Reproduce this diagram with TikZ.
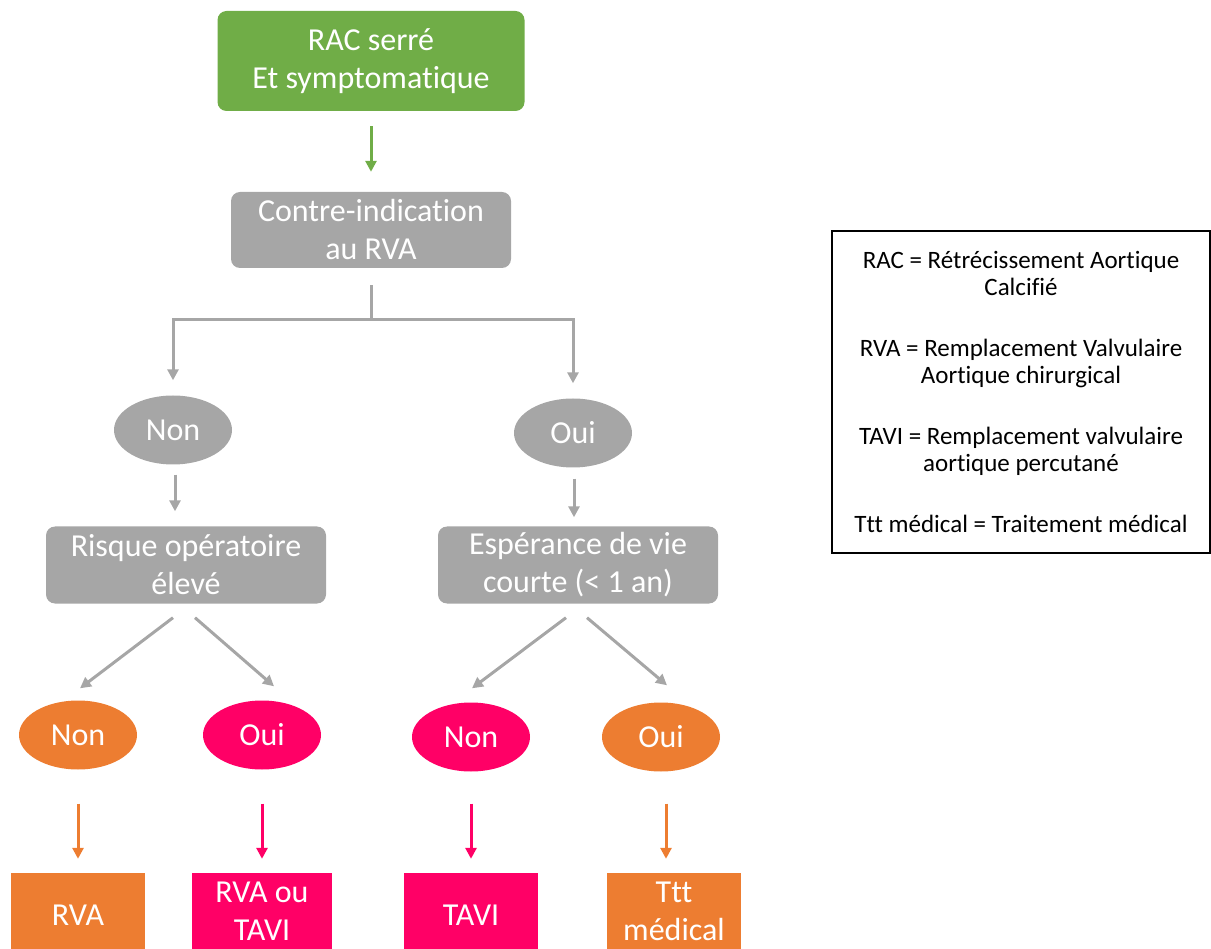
\documentclass[tikz,border=0pt]{standalone}
\usepackage{fontspec}
\setmainfont{Carlito}[Ligatures=NoCommon]
\usetikzlibrary{shapes.geometric,arrows.meta}
\definecolor{vert}{HTML}{70AD47}
\definecolor{gris}{HTML}{A6A6A6}
\definecolor{orangeb}{HTML}{ED7D31}
\definecolor{rose}{HTML}{FF0066}
\tikzset{
  boite/.style={rounded corners=9pt, fill=gris, text=white, align=center, inner sep=0pt,
    minimum width=280pt, minimum height=77pt, font=\fontsize{32}{38}\selectfont},
  bulle/.style={ellipse, text=white, inner sep=0pt, minimum width=118pt, minimum height=69pt,
    font=\fontsize{32}{38}\selectfont},
  fin/.style={text=white, align=center, inner sep=0pt, minimum width=134pt, minimum height=84pt,
    font=\fontsize{32}{38}\selectfont},
  fleche/.style={line width=3pt, -{Triangle[length=11pt,width=11pt]}},
  trait/.style={line width=3pt, draw=gris},
}
\begin{document}
\begin{tikzpicture}[x=1pt,y=-1pt]
\useasboundingbox (0,0) rectangle (1211,949);
\clip (0,0) rectangle (1211,949);

\node[boite,fill=vert,minimum width=307pt,minimum height=100pt] (rac) at (371,61) {RAC serré\\Et symptomatique};
\node[boite,minimum width=280pt,minimum height=76pt] (ci) at (371,230) {Contre-indication\\au RVA};
\node[bulle,fill=gris] (non1) at (173,430) {Non};
\node[bulle,fill=gris] (oui1) at (573,433) {Oui};
\node[boite] (risque) at (186,565) {Risque opératoire\\élevé};
\node[boite] (esper) at (578,565) {Espérance de vie\\courte (< 1 an)};

\node[bulle,fill=orangeb] (non2) at (78,735) {Non};
\node[bulle,fill=rose] (oui2) at (262,735) {Oui};
\node[bulle,fill=rose] (non3) at (471,737) {Non};
\node[bulle,fill=orangeb] (oui3) at (661,737) {Oui};

\node[fin,fill=orangeb] (rva) at (78,915) {RVA};
\node[fin,fill=rose,minimum width=140pt,minimum height=76pt] (rvatavi) at (262,911) {RVA ou\\TAVI};
\node[fin,fill=rose] (tavi) at (471,915) {TAVI};
\node[fin,fill=orangeb,minimum height=76pt] (ttt) at (674,911) {Ttt\\médical};

\node[draw=black, line width=2pt, align=center, minimum width=378pt, minimum height=321pt,
  font=\fontsize{25}{27}\selectfont] (leg) at (1021,392)
  {RAC = Rétrécissement Aortique\\Calcifié\\[34pt]
   RVA = Remplacement Valvulaire\\Aortique chirurgical\\[34pt]
   TAVI = Remplacement valvulaire\\aortique percutané\\[34pt]
   Ttt médical = Traitement médical};

\draw[fleche,draw=vert,shorten <=15pt,shorten >=20pt] (rac) -- (ci);

\coordinate (fourche) at (371,320);
\draw[trait] ([yshift=-17pt]ci.south) -- (fourche);
\draw[trait,fleche] (fourche) -| ([yshift=15pt]non1.north);
\draw[trait,fleche] (fourche) -| ([yshift=15pt]oui1.north);

\draw[trait,fleche] ([xshift=2pt,yshift=-10pt]non1.south) -- ([xshift=2pt,yshift=15pt]non1.south |- risque.north);
\draw[trait,fleche] ([xshift=1pt,yshift=-11pt]oui1.south) -- ([xshift=1pt,yshift=9pt]oui1.south |- esper.north);

\draw[trait,fleche] ([xshift=-13pt,yshift=-14pt]risque.south) -- ([xshift=2pt,yshift=12pt]non2.north);
\draw[trait,fleche] ([xshift=9pt,yshift=-14pt]risque.south) -- ([xshift=12pt,yshift=14pt]oui2.north);
\draw[trait,fleche] ([xshift=-12pt,yshift=-14pt]esper.south) -- ([xshift=1pt,yshift=14pt]non3.north);
\draw[trait,fleche] ([xshift=9pt,yshift=-14pt]esper.south) -- ([xshift=6pt,yshift=17pt]oui3.north);

\draw[fleche,draw=orangeb,shorten <=34pt,shorten >=14pt] (non2) -- (rva);
\draw[fleche,draw=rose,shorten <=34pt,shorten >=14pt] (oui2) -- (rvatavi);
\draw[fleche,draw=rose,shorten <=32pt,shorten >=14pt] (non3) -- (tavi);
\draw[fleche,draw=orangeb] ([xshift=5pt,yshift=-32pt]oui3.south) -- ([xshift=5pt,yshift=14pt]oui3.south |- ttt.north);
\end{tikzpicture}
\end{document}
